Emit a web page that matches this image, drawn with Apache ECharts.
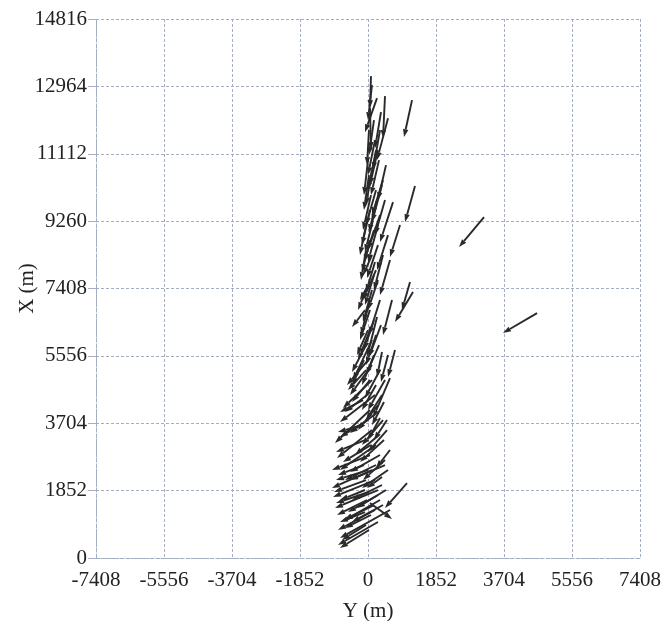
<!DOCTYPE html>
<html>
<head>
<meta charset="utf-8">
<script src="https://cdn.jsdelivr.net/npm/echarts@6/dist/echarts.min.js"></script>
<style>
html,body{margin:0;padding:0;background:#fff;}
#chart{width:670px;height:621px;}
</style>
</head>
<body>
<div id="chart"></div>
<script>
// Tick values (m)
const horizTicks = [-7408, -5556, -3704, -1852, 0, 1852, 3704, 5556, 7408];
const vertTicks = [0, 1852, 3704, 5556, 7408, 9260, 11112, 12964, 14816];

// Arrow tails (Y = horizontal, X = vertical), metres
const startY = [82,54,245,463,545,1199,163,327,490,409,272,218,463,681,1280,109,872,327,163,545,54,272,109,409,1144,1226,-27,218,-82,245,735,381,109,545,54,109,0,599,109,191,54,109,327,218,54,109,191,272,381,327,191,599,272,1062,54,463,-82,191,300,27,245,136,54,191,272,109,327,163,218,300,163,327,218,381,272,409,300,436,327,463,218,381,272,163,82,-54,436,518,599,-27,0,-82,0,-54,27,-27,-82,109,-54,0,3160,4604,
  109,27,354,218,381,82,272,-54,163,54,354,-109,54,463,163,518,82,545,409,490,27,-109,-163,-136,-54,0,-54,0,599,654];
const startX = [13245,12366,12641,12696,12091,12586,12036,11761,10800,10387,11212,10113,9838,9783,10223,10662,9151,9426,9013,8876,9563,8601,8326,8326,7584,7310,7447,7914,6815,6623,5716,5661,5991,5578,7090,6403,5441,4946,4891,4479,4067,3517,3847,3105,2830,2418,2143,1869,2226,1594,1319,1319,989,2061,1511,2556,1869,11487,10937,10525,9838,9288,8739,8134,7639,7365,7090,6540,6128,5853,5578,5166,4754,4479,4204,3792,3380,3243,2830,2693,2556,2006,1731,1456,1182,907,4287,3792,2968,4479,3792,3243,2418,2143,1814,1594,1264,5304,5853,6265,9371,6733,
  12998,11761,12256,11212,10250,9975,9151,8464,7777,6815,6403,5441,4891,4891,3930,3517,3105,2418,1456,1869,769,2556,3655,4342,5166,7502,9151,10937,8189,7090];
// Arrow heads, metres
const endY = [54,82,-82,409,245,981,27,136,272,109,54,-54,191,327,1008,-54,599,0,-109,245,-163,-27,-136,163,926,735,-218,-136,-436,-27,545,245,-409,354,-191,-272,-572,136,-681,-763,-899,-844,0,-763,-981,-981,-953,-899,-27,-627,-817,-763,-817,463,654,-490,-763,0,82,-109,27,-82,-163,-54,0,-136,27,-109,-54,-54,-163,-82,-163,-54,-272,-163,-354,-218,-490,-136,-627,-436,-545,-654,-627,-708,109,163,218,-627,-763,-872,-872,-926,-872,-844,-763,-490,-436,-300,2479,3677,
  0,-27,191,0,109,-136,0,-191,-82,-218,27,-436,-436,0,-490,0,-681,-163,-436,-300,-763,-817,-817,-763,-545,-272,-218,-109,327,409];
const endX = [12366,11212,11706,11542,10937,11569,11074,10662,9838,9426,10250,9151,8876,8684,9233,9700,8271,8464,8134,7914,8601,7694,7777,7365,6815,6485,7090,7090,6348,5523,4974,4974,4891,4836,6128,5441,4754,3847,4122,3737,3160,2748,3243,2418,2418,1924,1676,1374,1924,1044,769,550,357,1374,1072,2143,1594,10525,9975,9563,8958,8409,7859,7310,6815,6485,6128,5716,5304,5029,4754,4397,4067,3792,3517,3105,2830,2638,2363,2143,2143,1594,1264,1044,824,495,3655,3243,2473,4012,3325,2913,2143,1814,1511,1182,989,4479,5111,5578,8546,6183,
  12036,10800,11267,10113,9233,9013,8134,7639,6952,5991,5523,4754,4287,4067,3435,2913,2638,1924,989,1374,275,2281,3462,4012,4617,6815,8326,9975,7227,6128];

const arrows = startY.map((v, i) => [v, startX[i], endY[i], endX[i]]);

const chart = echarts.init(document.getElementById('chart'), null, {renderer: 'canvas'});
const FONT = 'Liberation Serif';
const gridColor = '#a3afc0';

function renderArrow(params, api) {
  const p1 = api.coord([api.value(0), api.value(1)]);
  const p2 = api.coord([api.value(2), api.value(3)]);
  const dx = p2[0] - p1[0], dy = p2[1] - p1[1];
  const L = Math.hypot(dx, dy) || 1;
  const ux = dx / L, uy = dy / L;
  const hl = 8, hw = 2.7;
  const bx = p2[0] - ux * hl, by = p2[1] - uy * hl;
  return {
    type: 'group',
    children: [
      {type: 'line', shape: {x1: p1[0], y1: p1[1], x2: bx, y2: by},
       style: {stroke: '#2a2a2a', lineWidth: 1.9}},
      {type: 'polygon', shape: {points: [[p2[0], p2[1]], [bx - uy * hw, by + ux * hw], [bx + uy * hw, by - ux * hw]]},
       style: {fill: '#2a2a2a'}}
    ]
  };
}

const plain = v => String(v);

chart.setOption({
  animation: false,
  backgroundColor: '#ffffff',
  grid: {left: 96, right: 30, top: 19, bottom: 63, containLabel: false, outerBoundsMode: 'none'},
  xAxis: {
    type: 'value', min: horizTicks[0], max: horizTicks[horizTicks.length - 1], interval: 1852,
    name: 'Y (m)', nameLocation: 'middle', nameGap: 43, nameMoveOverlap: false,
    nameTextStyle: {fontFamily: FONT, fontSize: 21, color: '#222'},
    axisLine: {show: true, onZero: false, lineStyle: {color: gridColor, type: 'dashed', width: 1}},
    axisTick: {show: false},
    axisLabel: {fontFamily: FONT, fontSize: 21, color: '#222', margin: 12, formatter: plain},
    splitLine: {show: true, lineStyle: {color: gridColor, type: [3, 2], width: 1}}
  },
  yAxis: {
    type: 'value', min: vertTicks[0], max: vertTicks[vertTicks.length - 1], interval: 1852,
    name: 'X (m)', nameLocation: 'middle', nameGap: 58, nameRotate: 90, nameMoveOverlap: false,
    nameTextStyle: {fontFamily: FONT, fontSize: 21, color: '#222'},
    axisLine: {show: true, onZero: false, lineStyle: {color: gridColor, type: 'dashed', width: 1}},
    axisTick: {show: true, length: 8, lineStyle: {color: gridColor}},
    axisLabel: {fontFamily: FONT, fontSize: 21, color: '#222', margin: 9, formatter: plain},
    splitLine: {show: true, lineStyle: {color: gridColor, type: [3, 2], width: 1}}
  },
  series: [{
    type: 'custom',
    renderItem: renderArrow,
    encode: {x: [0, 2], y: [1, 3]},
    data: arrows
  }]
});
</script>
</body>
</html>
